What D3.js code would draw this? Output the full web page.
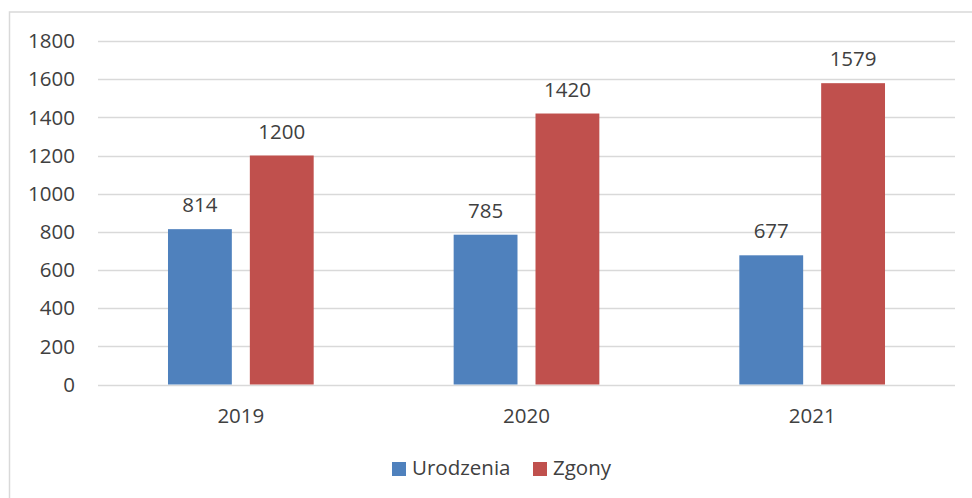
<!DOCTYPE html>
<html>
<head>
<meta charset="utf-8">
<script src="https://cdn.jsdelivr.net/npm/d3@7"></script>
<style>
  body { margin: 0; background: #fff; }
  svg text { font-family: "Open Sans", "Liberation Sans", sans-serif; fill: #404040; }
</style>
</head>
<body>
<div id="chart"></div>
<script>
const years = ["2019", "2020", "2021"];
const seriesNames = ["Urodzenia", "Zgony"];
const urodzenia = [814, 785, 677];
const zgony = [1200, 1420, 1579];
const yTicks = [0, 200, 400, 600, 800, 1000, 1200, 1400, 1600, 1800];
const colors = ["#4f81bd", "#c0504d"];

const width = 972, height = 498;
const plotLeft = 98, plotRight = 955, plotTop = 41, plotBottom = 384.5;

const svg = d3.select("#chart").append("svg")
    .attr("width", width)
    .attr("height", height);

// frame (only top and left visible)
svg.append("path")
    .attr("d", "M9.5,500 L9.5,12 L980,12")
    .attr("fill", "none")
    .attr("stroke", "#d9d9d9")
    .attr("stroke-width", 1.5);

const y = d3.scaleLinear().domain([0, 1800]).range([plotBottom, plotTop]);

const x0 = d3.scaleBand().domain(years).range([plotLeft, plotRight])
    .paddingInner(0.49).paddingOuter(0.245);
const x1 = d3.scaleBand().domain(seriesNames).range([0, x0.bandwidth()])
    .paddingInner(0.22);

// gridlines
svg.append("g").selectAll("line")
    .data(yTicks).enter()
    .append("line")
    .attr("x1", plotLeft).attr("x2", plotRight)
    .attr("y1", d => Math.round(y(d)) + 0.5)
    .attr("y2", d => Math.round(y(d)) + 0.5)
    .attr("stroke", "#d9d9d9")
    .attr("stroke-width", 1.5);

// y labels
svg.append("g").selectAll("text")
    .data(yTicks).enter()
    .append("text")
    .attr("x", 75)
    .attr("y", d => y(d))
    .attr("dy", "0.35em")
    .attr("text-anchor", "end")
    .style("font-size", "20.5px")
    .text(d => d);

const rows = years.map((yr, i) => ({ year: yr, values: [urodzenia[i], zgony[i]] }));

const groups = svg.append("g").selectAll("g")
    .data(rows).enter()
    .append("g")
    .attr("transform", d => `translate(${x0(d.year)},0)`);

groups.selectAll("rect")
    .data(d => d.values.map((v, j) => ({ name: seriesNames[j], v, j })))
    .enter()
    .append("rect")
    .attr("x", d => x1(d.name))
    .attr("y", d => y(d.v))
    .attr("width", x1.bandwidth())
    .attr("height", d => y(0) - y(d.v))
    .attr("fill", d => colors[d.j]);

groups.selectAll("text")
    .data(d => d.values.map((v, j) => ({ name: seriesNames[j], v, j })))
    .enter()
    .append("text")
    .attr("x", d => x1(d.name) + x1.bandwidth() / 2)
    .attr("y", d => y(d.v) - 17)
    .attr("text-anchor", "middle")
    .style("font-size", "20.5px")
    .text(d => d.v);

// x labels
svg.append("g").selectAll("text")
    .data(years).enter()
    .append("text")
    .attr("x", d => x0(d) + x0.bandwidth() / 2)
    .attr("y", 423)
    .attr("text-anchor", "middle")
    .style("font-size", "20.5px")
    .text(d => d);

// legend
const legendX = [392, 533];
const legend = svg.append("g").selectAll("g")
    .data(seriesNames).enter()
    .append("g")
    .attr("transform", (d, i) => `translate(${legendX[i]},462)`);
legend.append("rect")
    .attr("width", 14).attr("height", 14)
    .attr("fill", (d, i) => colors[i]);
legend.append("text")
    .attr("x", 20)
    .attr("y", 13)
    .style("font-size", "20.5px")
    .text(d => d);
</script>
</body>
</html>
